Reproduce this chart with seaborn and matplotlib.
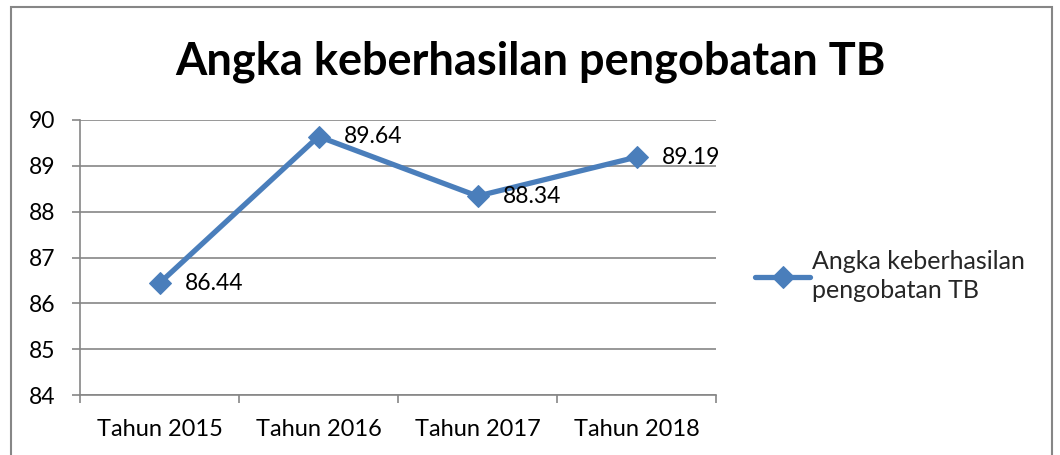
import matplotlib
matplotlib.use("Agg")
import matplotlib.pyplot as plt
import seaborn as sns
import pandas as pd
from matplotlib.patches import Rectangle

categories = ["Tahun 2015", "Tahun 2016", "Tahun 2017", "Tahun 2018"]
values = [86.44, 89.64, 88.34, 89.19]
series_name = "Angka keberhasilan\npengobatan TB"
title = "Angka keberhasilan pengobatan TB"
yticks = [84, 85, 86, 87, 88, 89, 90]

sns.set_theme(style="white")
plt.rcParams["font.family"] = ["Lato", "DejaVu Sans"]

df = pd.DataFrame({"Tahun": categories, "Nilai": values})

fig = plt.figure(figsize=(10.6, 4.55), dpi=100)
ax = fig.add_axes([80/1060, 1-395/455, (716-80)/1060, (395-120)/455])

color = "#4A7EBB"
grid_c = "#868686"

sns.lineplot(data=df, x="Tahun", y="Nilai", ax=ax, color=color, lw=3.8,
             marker="D", markersize=11.5, markeredgecolor=color, sort=False,
             label=series_name, legend=False)

for i, v in enumerate(values):
    ax.annotate(f"{v:.2f}", (i, v), xytext=(18, 0), textcoords="offset points",
                ha="left", va="center", fontsize=16.5, color="black")

ax.set_xlim(-0.5, len(categories)-0.5)
ax.set_ylim(84, 90)
ax.set_yticks(yticks)
ax.set_yticklabels([str(t) for t in yticks])
ax.set_xticks(range(len(categories)))
ax.set_xticklabels(categories)
ax.set_xticks([i-0.5 for i in range(len(categories)+1)], minor=True)
ax.tick_params(axis="x", which="major", length=0, pad=17, labelsize=17, labelcolor="black")
ax.tick_params(axis="x", which="minor", length=6, width=1.2, color=grid_c, direction="out", bottom=True)
ax.tick_params(axis="y", which="major", length=6, width=1.2, color=grid_c, direction="out", left=True,
               pad=12, labelsize=16.5, labelcolor="black")
ax.set_xlabel("")
ax.set_ylabel("")
ax.grid(axis="y", color=grid_c, lw=1.2)
ax.grid(axis="x", visible=False)
for s in ["top", "right"]:
    ax.spines[s].set_visible(False)
for s in ["left", "bottom"]:
    ax.spines[s].set_color(grid_c)
    ax.spines[s].set_linewidth(1.2)

fig.text(0.5, 1-62/455, title, ha="center", va="center", fontsize=32.5, fontweight="bold", color="black")

h, l = ax.get_legend_handles_labels()
leg = fig.legend(h, l, loc="center left", bbox_to_anchor=(755/1060, 1-276/455), frameon=False,
                 borderaxespad=0, borderpad=0,
                 fontsize=18, handlelength=2.2, handletextpad=0.1, labelspacing=0.2)
for t in leg.get_texts():
    t.set_linespacing(1.35)

fig.add_artist(Rectangle((11/1060, -0.05), (1052-11)/1060, 1.05-7/455, transform=fig.transFigure,
                         fill=False, edgecolor=grid_c, lw=1.5))

fig.savefig("out.png", dpi=100)
